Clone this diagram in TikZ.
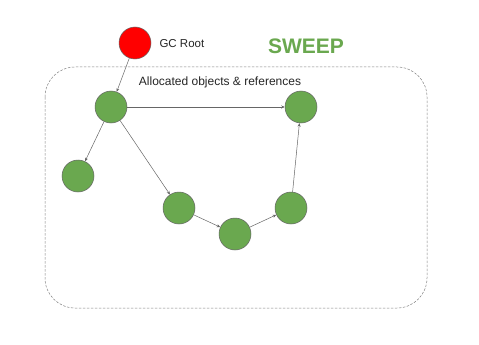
\documentclass[tikz,border=0pt]{standalone}
\usepackage{fontspec}
\setmainfont{Liberation Sans}
\usetikzlibrary{arrows.meta}
\definecolor{objgreen}{HTML}{6AA84F}
\definecolor{edgegray}{HTML}{666666}
\begin{document}
\begin{tikzpicture}[x=1pt,y=-1pt,
  obj/.style={circle,fill=objgreen,draw=edgegray,line width=0.5pt,minimum size=32pt,inner sep=0pt},
  root/.style={circle,fill=red,draw=edgegray,line width=0.5pt,minimum size=32pt,inner sep=0pt},
  ref/.style={draw=edgegray,line width=0.5pt,-{Stealth[length=3.5pt,width=3pt]}},
  lbl/.style={font=\fontsize{11.5}{13}\selectfont,text=black!85}]
\useasboundingbox[fill=white] (0,0) rectangle (479,345);
\draw[dash pattern=on 2.5pt off 1.5pt,draw=gray,line width=0.5pt,rounded corners=30pt] (45,67) rectangle (427,308);
\node[root] (gc) at (135,43) {};
\node[lbl,anchor=west] (gcl) at (156,44) {GC Root};
\node[font=\fontsize{21}{24}\selectfont\bfseries,text=objgreen] (sweep) at (306,46) {SWEEP};
\node[lbl,font=\fontsize{12}{14}\selectfont] (alloc) at (220,82) {Allocated objects \& references};
\node[obj] (a) at (111,107) {};
\node[obj] (b) at (301,107) {};
\node[obj] (c) at (78,176) {};
\node[obj] (d) at (179,208) {};
\node[obj] (e) at (235,234) {};
\node[obj] (f) at (291,208) {};
\draw[ref] (gc) -- (a);
\draw[ref] (a) -- (b);
\draw[ref] (a) -- (c);
\draw[ref] (a) -- (d);
\draw[ref] (d) -- (e);
\draw[ref] (e) -- (f);
\draw[ref] (f) -- (b);
\end{tikzpicture}
\end{document}
